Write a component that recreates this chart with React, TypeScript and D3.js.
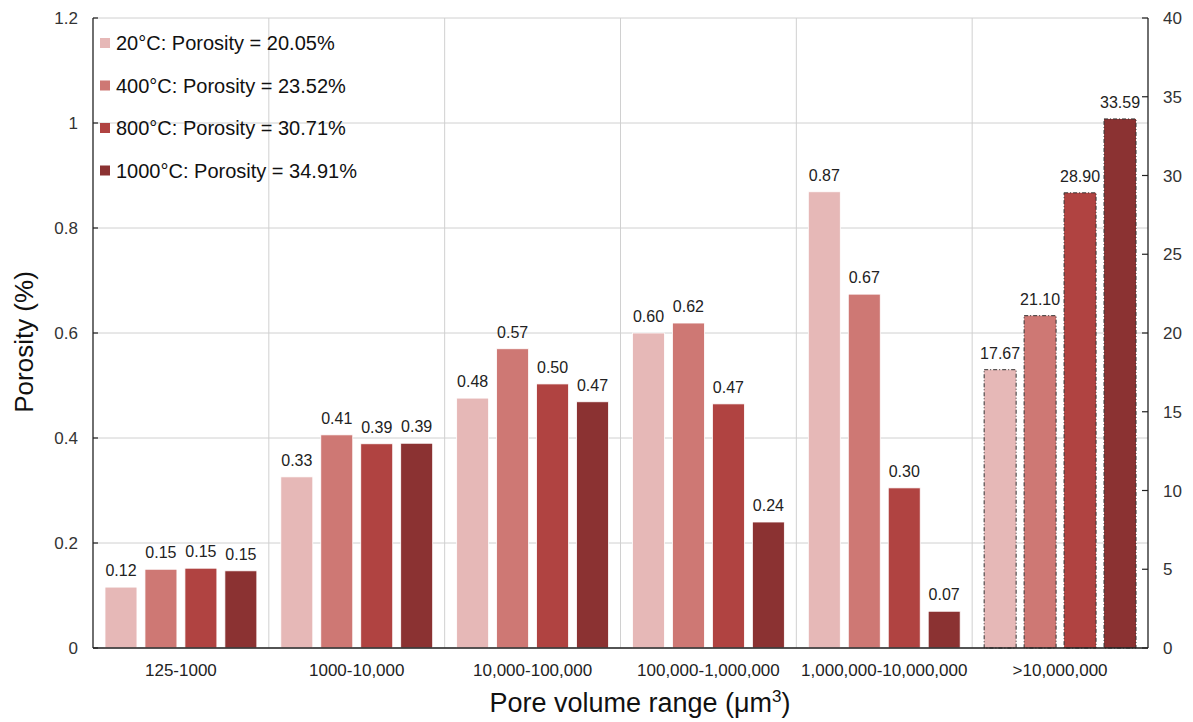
import React from "react";
import * as d3 from "d3";

const categories = ["125-1000", "1000-10,000", "10,000-100,000", "100,000-1,000,000", "1,000,000-10,000,000", ">10,000,000"];
const seriesNames = ["20°C: Porosity = 20.05%", "400°C: Porosity = 23.52%", "800°C: Porosity = 30.71%", "1000°C: Porosity = 34.91%"];
const seriesColors = ["#E6B8B7", "#CE7874", "#B04341", "#8B3232"];
const s20 = [0.116, 0.326, 0.476, 0.600, 0.869, 17.67];
const s400 = [0.150, 0.406, 0.570, 0.619, 0.674, 21.10];
const s800 = [0.152, 0.389, 0.503, 0.465, 0.305, 28.90];
const s1000 = [0.147, 0.390, 0.469, 0.240, 0.070, 33.59];
const leftTicks = [0, 0.2, 0.4, 0.6, 0.8, 1, 1.2];
const rightTicks = [0, 5, 10, 15, 20, 25, 30, 35, 40];
const rightAxisCategory = ">10,000,000";

const W = 1193, H = 722;
const L = 93, R = 1148, T = 18, B = 648;
const FONT = "'Liberation Sans', Arial, sans-serif";

export default function App() {
  const series = [s20, s400, s800, s1000];
  const x0 = d3.scaleBand().domain(categories).range([L, R]).padding(0);
  const x1 = d3.scaleBand().domain(seriesNames).range([0, x0.bandwidth()]).paddingInner(0.2).paddingOuter(0.3);
  const yL = d3.scaleLinear().domain([0, 1.2]).range([B, T]);
  const yR = d3.scaleLinear().domain([0, 40]).range([B, T]);

  return (
    <svg width={W} height={H} style={{ position: "absolute", left: 0, top: 0, background: "#fff" }} fontFamily={FONT}>
      <rect x={0} y={0} width={W} height={H} fill="#fff" />
      {leftTicks.map((t) => (
        <line key={"hg" + t} x1={L} x2={R} y1={yL(t)} y2={yL(t)} stroke="#D0D0D0" strokeWidth={1} />
      ))}
      {categories.slice(1).map((c) => (
        <line key={"vg" + c} x1={x0(c)!} x2={x0(c)!} y1={T} y2={B} stroke="#D0D0D0" strokeWidth={1} />
      ))}
      {categories.map((c, ci) => {
        const isRight = c === rightAxisCategory;
        const y = isRight ? yR : yL;
        return seriesNames.map((s, si) => {
          const v = series[si][ci];
          const bx = x0(c)! + x1(s)!;
          const by = y(v);
          return (
            <g key={c + s}>
              <rect x={bx} y={by} width={x1.bandwidth()} height={B - by} fill={seriesColors[si]}
                stroke={isRight ? "#333" : "#fff"} strokeWidth={isRight ? 1 : 0.8}
                strokeDasharray={isRight ? "4,2,1,2" : undefined} />
              <text x={bx + x1.bandwidth() / 2} y={by - 11} textAnchor="middle" fontSize={16} fill="#222">
                {v.toFixed(2)}
              </text>
            </g>
          );
        });
      })}
      <line x1={L} x2={L} y1={T} y2={B} stroke="#222" strokeWidth={1.3} />
      <line x1={R} x2={R} y1={T} y2={B} stroke="#222" strokeWidth={1.3} />
      <line x1={L} x2={R} y1={B} y2={B} stroke="#222" strokeWidth={1.3} />
      {leftTicks.map((t) => (
        <g key={"lt" + t}>
          <line x1={L} x2={L + 5} y1={yL(t)} y2={yL(t)} stroke="#222" strokeWidth={1.2} />
          <text x={78} y={yL(t) + 6} textAnchor="end" fontSize={17} fill="#333">{String(t)}</text>
        </g>
      ))}
      {rightTicks.map((t) => (
        <g key={"rt" + t}>
          <line x1={R - 6} x2={R} y1={yR(t)} y2={yR(t)} stroke="#222" strokeWidth={1.2} />
          <text x={R + 15} y={yR(t) + 6} textAnchor="start" fontSize={17} fill="#333">{String(t)}</text>
        </g>
      ))}
      {categories.map((c) => (
        <text key={"xl" + c} x={x0(c)! + x0.bandwidth() / 2} y={B + 28} textAnchor="middle" fontSize={17} fill="#222">{c}</text>
      ))}
      <text x={640} y={712} textAnchor="middle" fontSize={27} fill="#111">
        Pore volume range (μm<tspan dy={-10} fontSize={17}>3</tspan><tspan dy={10}>)</tspan>
      </text>
      <text transform={`translate(33, 342) rotate(-90)`} textAnchor="middle" fontSize={26} fill="#111">Porosity (%)</text>
      {seriesNames.map((s, i) => (
        <g key={"lg" + s}>
          <rect x={100} y={38 + i * 42.5} width={10} height={10} fill={seriesColors[i]} />
          <text x={116} y={50 + i * 42.5} fontSize={20} fill="#111">{s}</text>
        </g>
      ))}
    </svg>
  );
}
